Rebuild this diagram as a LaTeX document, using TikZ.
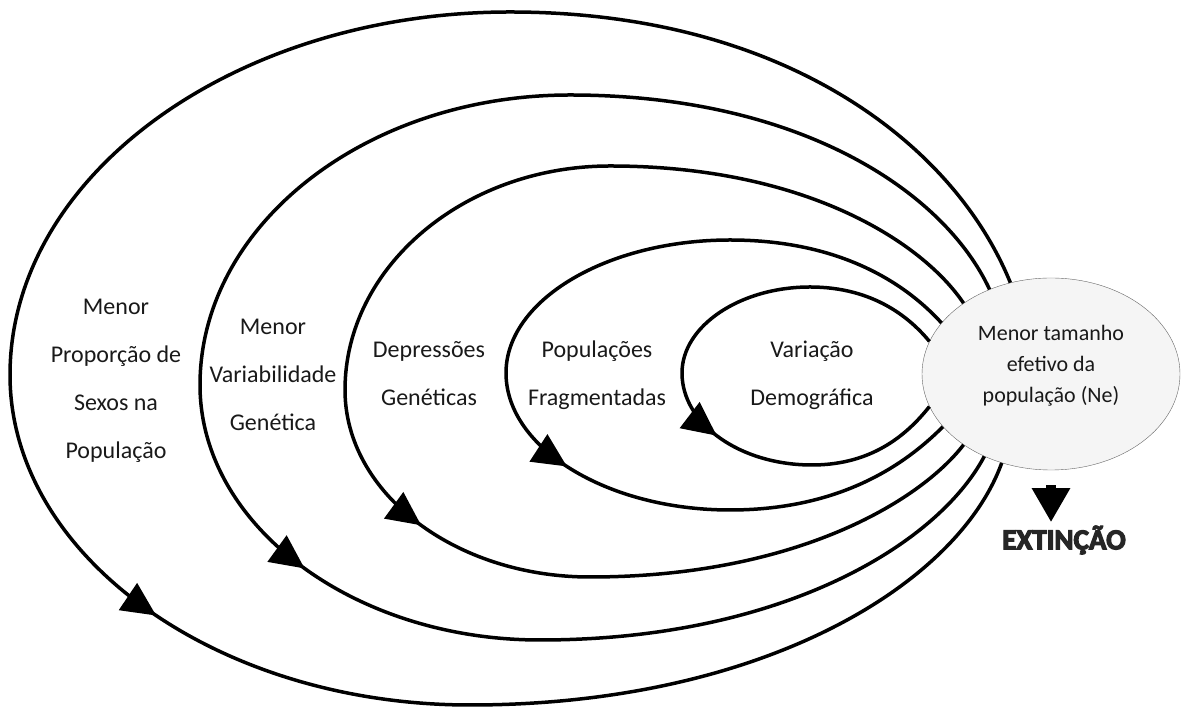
\documentclass[tikz,border=0pt]{standalone}
\usepackage{fontspec}
\setmainfont{Carlito}
\newfontfamily\extfont{Carlito Bold}[FakeBold=4]
\usetikzlibrary{arrows.meta,shapes.geometric,decorations.markings}

\tikzset{
  cycleline/.style={line width=3.5pt, postaction={decorate},
    decoration={markings, mark=at position #1 with {\arrow{Triangle[length=34pt,width=32pt]}}}},
  factor/.style={align=center, font=\fontsize{24}{48}\selectfont, text=black!90},
}

\begin{document}
\begin{tikzpicture}[x=1pt, y=1pt]
\useasboundingbox (0,0) rectangle (1183,711);

% central effect
\node[ellipse, draw=black!60, fill=black!4, minimum width=258pt, minimum height=192pt,
      inner sep=0pt, font=\fontsize{22}{31}\selectfont, text=black!90]
      (ne) at (1051,337) {\raisebox{3.5pt}[0pt][0pt]{\begin{tabular}{@{}c@{}}Menor tamanho\\efetivo da\\população (Ne)\end{tabular}}};

% nested cycles, outer to inner
\draw[cycleline=0.625] (ne.114) .. controls +(-56,138) and +(275,0) .. (510,699)
  .. controls +(-275,0) and +(0,200) .. (10,336)
  .. controls +(0,-181) and +(-253,0) .. (470,6)
  .. controls +(291,0) and +(-44,-122) .. (ne.241);
\draw[cycleline=0.62] (ne.126) .. controls +(-45,97) and +(231,0) .. (570,616)
  .. controls +(-204,0) and +(0,160) .. (200,326)
  .. controls +(0,-140) and +(-187,0) .. (540,71)
  .. controls +(243,0) and +(-46,-87) .. (ne.231);
\draw[cycleline=0.615] (ne.141) .. controls +(-42,62) and +(194,0) .. (610,545)
  .. controls +(-146,0) and +(0,123) .. (345,321)
  .. controls +(0,-103) and +(-135,0) .. (590,134)
  .. controls +(204,0) and +(-44,-57) .. (ne.219);
\draw[cycleline=0.61] (ne.155) .. controls +(-31,34) and +(117,0) .. (730,471)
  .. controls +(-123,0) and +(0,73) .. (506,338)
  .. controls +(0,-75) and +(-123,0) .. (730,201)
  .. controls +(117,0) and +(-32,-32) .. (ne.206);
\draw[cycleline=0.615] (ne.165) .. controls +(-19,23) and +(64,0) .. (810,424)
  .. controls +(-70,0) and +(0,47) .. (682,338)
  .. controls +(0,-51) and +(-72,0) .. (812,246)
  .. controls +(63,0) and +(-20,-25) .. (ne.195);

% labels
\node[factor] (sexos) at (116,330) {Menor\\Proporção de\\Sexos na\\População};
\node[factor] (varia) at (273,336) {Menor\\Variabilidade\\Genética};
\node[factor] (depre) at (429,337) {Depressões\\Genéticas};
\node[factor] (fragm) at (597,336) {Populações\\Fragmentadas};
\node[factor] (demog) at (812,336) {Variação\\Demográfica};

% outcome
\node[font=\extfont\fontsize{29}{30}\selectfont, text=black!85] (ext) at (1064,171) {EXTINÇÃO};
\draw[line width=10pt, -{Triangle[length=34pt,width=36pt]}, shorten <=15pt]
  (ne.south) -- (ext.north -| ne.south);
\end{tikzpicture}
\end{document}
